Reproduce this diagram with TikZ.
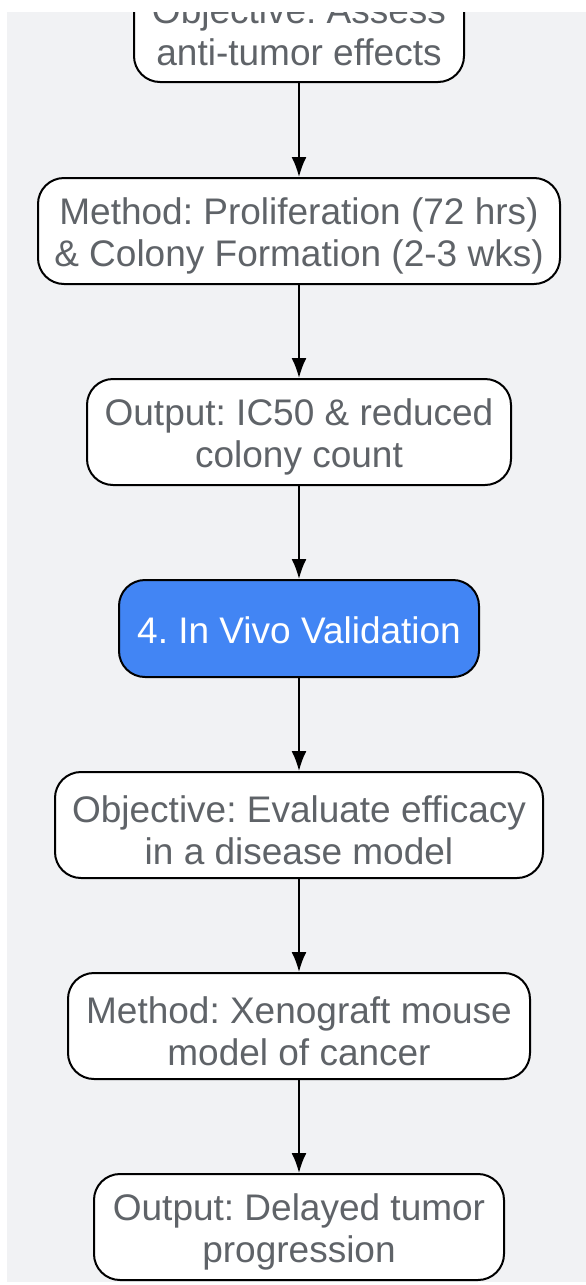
\documentclass[tikz,border=0pt]{standalone}
\usepackage{fontspec}
\setmainfont{Liberation Sans}
\usetikzlibrary{arrows.meta}
\definecolor{bgc}{HTML}{F1F2F4}
\definecolor{txc}{HTML}{5F6368}
\definecolor{bluec}{HTML}{4285F4}
\frenchspacing
\newcommand{\mystrut}{\rule{0pt}{37pt}}
\newcommand{\mystrutb}{\rule{0pt}{31pt}}
\tikzset{
  box/.style={draw=black, line width=2pt, fill=white, rounded corners=26pt,
    align=center, text=txc, font=\fontsize{37}{42}\selectfont,
    minimum height=106pt, inner sep=0pt},
  bluebox/.style={box, fill=bluec, text=white, minimum height=97pt},
  conn/.style={draw=black, line width=2pt, -{Latex[length=20pt,width=15pt]}}
}
\begin{document}
\begin{tikzpicture}[x=1pt,y=-1pt]
\useasboundingbox (0,0) rectangle (586,1285);
\fill[bgc] (7,12) rectangle (586,1282);
\begin{scope}
\clip (7,12) rectangle (586,1282);
\node[box, minimum width=330pt, minimum height=112pt] (n1) at (299,26) {\mystrut Objective: Assess\\anti-tumor effects};
\node[box, minimum width=522pt] (n2) at (299,231) {\mystrut Method: Proliferation (72 hrs)\\\& Colony Formation (2-3 wks)};
\node[box, minimum width=424pt] (n3) at (299,432) {\mystrut Output: IC50 \& reduced\\colony count};
\node[bluebox, minimum width=360pt] (n4) at (299,628.5) {\mystrutb 4. In Vivo Validation};
\node[box, minimum width=488pt] (n5) at (299,825) {\mystrut Objective: Evaluate efficacy\\in a disease model};
\node[box, minimum width=462pt] (n6) at (299,1026) {\mystrut Method: Xenograft mouse\\model of cancer};
\node[box, minimum width=410pt] (n7) at (299,1227) {\mystrut Output: Delayed tumor\\progression};
\draw[conn] (n1) -- (n2);
\draw[conn] (n2) -- (n3);
\draw[conn] (n3) -- (n4);
\draw[conn] (n4) -- (n5);
\draw[conn] (n5) -- (n6);
\draw[conn] (n6) -- (n7);
\end{scope}
\end{tikzpicture}
\end{document}
